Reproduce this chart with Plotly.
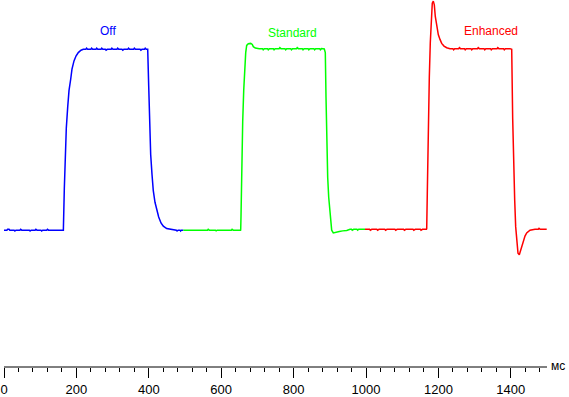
import plotly.graph_objects as go

# ---- data (time in ms, level in % of full step) ----
off_pts = [(0,0),(8,0),(10,0.5),(14,0.5),(16,0),(28,0),(30,-0.5),(33,0),(44,0),(46,0.5),(49,0),(70,0),(72,-0.5),(75,0),
           (86,0),(88,0.5),(91,0),(102,0),(104,-0.5),(107,0),(118,0),(120,0.5),(123,0),(138,0),(140,-0.4),(143,0),(163.5,0),
           (164,0),(166.6,22.7),(169.3,41.8),(172.1,56.4),(176.0,68.2),(179.6,77.3),(184.3,83.6),(187.8,89.1),(193.4,93.6),
           (198.9,96.3),(205.2,98.2),(212.7,99.5),(219.1,100),
           (226,100),(228,100.6),(231,100),(240,100),(242,100.6),(245,100),(254,100),(256,100.6),(259,100),(268,100),(270,100.6),
           (273,100),(280,100),(282,99.5),(285,100),(296,100),(298,100.6),(301,100),(312,100),(314,100.6),(317,100),(326,100),
           (328,99.5),(331,100),(342,100),(344,100.6),(347,100),(358,100),(360,100.6),(363,100),(376,100),(378,99.5),(381,100),
           (388,100),(390,100.6),(393,100),(397,100),
           (399.7,80),(402.5,57.3),(405.2,41.8),(408.8,30.9),(412.4,21.8),(417.1,15.4),(421.8,10.9),(427.3,7.3),(433.7,4.0),
           (440.1,2.2),(449.4,0.9),(463.3,0.5),(472,0),(476,0),(478,-0.5),(481,0),(486,0),(488,-0.5),(490,0),(495.3,0)]

std_pts = [(495.3,0),(500,0),(502,-0.4),(505,0),(516,0),(518,-0.4),(521,0),(540,0),(542,-0.4),(545,0),(562,0),(564,0.5),
           (567,0),(584,0),(586,-0.4),(589,0),(606,0),(608,-0.4),(611,0),(628,0),(630,0.5),(633,0),(653.5,0),
           (653.9,0.5),(654.7,7.6),(656.6,36.3),(659.4,60),(662.2,77.3),(664.9,89.1),(667.7,98.2),(670.4,102.2),(674.9,103.1),
           (681.5,103.3),(685.9,102.7),(688.7,101.5),(694.2,100.7),(705.2,100.4),
           (714,100.4),(716,99.8),(719,100.4),(728,100.4),(730,99.8),(733,100.4),(744,100.4),(746,99.8),(749,100.4),
           (760,100.4),(762,101),(765,100.4),(776,100.4),(778,99.8),(781,100.4),(792,100.4),(794,99.8),(797,100.4),
           (808,100.4),(810,101),(813,100.4),(824,100.4),(826,99.8),(829,100.4),(840,100.4),(842,99.8),(845,100.4),
           (856,100.4),(858,99.8),(861,100.4),(872,100.4),(874,99.8),(877,100.4),(884.8,100.2),
           (887.6,98.2),(889.5,73.6),(891.4,47.2),(894.2,29.1),(897.0,18.2),(900.6,8.2),(905.2,0),(909.7,-1.5),(919.1,-0.9),
           (926.2,-0.8),(935.6,-0.4),(946.7,-0.2),(956,0.5),(960,0.5),(962,0),(966,0.5),(975,0.5),(977,0),(980,0.5),(997.2,0.5)]

enh_pts = [(997.2,0.5),(1010,0.5),(1012,0),(1016,0.5),(1030,0.5),(1032,0),(1036,0.5),(1052,0.5),(1054,0),(1058,0.5),
           (1080,0.5),(1082,0),(1086,0.5),(1104,0.5),(1106,0),(1110,0.5),(1130,0.5),(1132,0),(1136,0.5),(1150,0.5),
           (1152,0),(1156,0.5),(1167,0.5),
           (1167.7,0.9),(1169.3,20),(1172.1,58.2),(1174.9,84.6),(1177.6,103.7),(1180.4,118.2),(1183.1,125.5),(1185.9,126.7),
           (1188.7,124.6),(1191.4,118.2),(1195.3,112.7),(1199.7,108.2),(1204.4,105.5),(1209.1,103.3),(1215.5,101.8),
           (1222.9,100.9),(1232.0,100.4),
           (1240,100.4),(1242,99.8),(1245,100.4),(1256,100.4),(1258,101),(1261,100.4),(1272,100.4),(1274,99.8),(1277,100.4),
           (1290,100.4),(1292,99.8),(1295,100.4),(1308,100.4),(1310,101),(1313,100.4),(1326,100.4),(1328,99.8),(1331,100.4),
           (1344,100.4),(1346,99.8),(1349,100.4),(1362,100.4),(1364,101),(1367,100.4),(1380,100.4),(1382,99.8),(1385,100.4),
           (1397.8,100.4),
           (1402.5,100),(1405.2,61.8),(1408.0,32.7),(1410.8,16.4),(1413.5,1.8),(1416.3,-7.3),(1419.9,-12.8),(1423.5,-13.6),
           (1427.3,-10.9),(1430.9,-8.2),(1434.5,-5.5),(1439.2,-3.3),(1443.9,-1.5),(1453.0,0),(1466.9,0.5),(1476,0.5),
           (1478,1),(1481,0.5),(1490,0.5),(1499.2,0.5)]

series_names = ["Off", "Standard", "Enhanced"]
series_colors = ["#0000ff", "#00ff00", "#ff0000"]
label_x = [287, 798, 1345]
label_y = [110.1, 109.3, 110.4]

major_ticks = [0, 200, 400, 600, 800, 1000, 1200, 1400]
minor_ticks = [t for t in range(40, 1500, 40) if t % 200 != 0]
axis_end = 1500
unit_label = "мс"

FONT = "Liberation Sans, Arial, sans-serif"
TICKFONT = "Liberation Sans Narrow, Arial Narrow, Liberation Sans, Arial, sans-serif"

fig = go.Figure()
for pts, name, col in zip([off_pts, std_pts, enh_pts], series_names, series_colors):
    xs = [p[0] for p in pts]
    ys = [p[1] for p in pts]
    fig.add_trace(go.Scatter(x=xs, y=ys, mode="lines", name=name,
                             line=dict(color=col, width=1.5), hoverinfo="skip"))

for name, col, lx, ly in zip(series_names, series_colors, label_x, label_y):
    fig.add_annotation(x=lx, y=ly, xref="x", yref="y", text=name, showarrow=False,
                       font=dict(family=FONT, size=12, color=col), xanchor="center", yanchor="middle")

fig.add_annotation(x=1530, y=0.004, xref="x", yref="paper", text=unit_label, showarrow=False,
                   font=dict(family=FONT, size=12, color="#000000"), xanchor="center", yanchor="middle")

fig.add_shape(type="line", xref="x", yref="paper", x0=0, x1=axis_end, y0=0, y1=0,
              line=dict(color="#000000", width=1), layer="above")

s = 0.362
fig.update_layout(
    width=569, height=397,
    margin=dict(l=0, r=0, t=0, b=25, pad=0),
    paper_bgcolor="white", plot_bgcolor="white",
    showlegend=False,
    xaxis=dict(range=[-4 / s, -4 / s + 569 / s], showgrid=False, zeroline=False, showline=False,
               tickmode="array", tickvals=major_ticks, ticktext=[str(t) for t in major_ticks],
               ticks="outside", ticklen=10, tickwidth=1, tickcolor="#000000",
               tickfont=dict(family=TICKFONT, size=13, color="#000000"),
               minor=dict(tickmode="array", tickvals=minor_ticks, ticks="outside", ticklen=4,
                          tickwidth=1, tickcolor="#000000", showgrid=False),
               fixedrange=True),
    yaxis=dict(range=[-75.7, 127.3], visible=False, fixedrange=True),
)

fig.write_html("out.html")
